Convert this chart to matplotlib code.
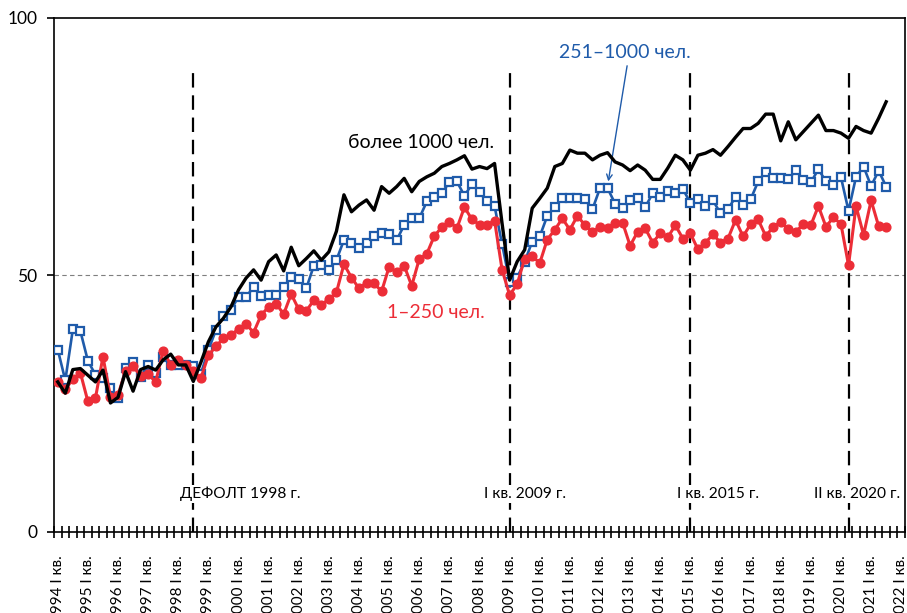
import matplotlib
matplotlib.use("Agg")
import matplotlib.pyplot as plt
import numpy as np

plt.rcParams['font.family'] = ['Lato', 'DejaVu Sans']

# ---- data (quarterly, 1994 Q1 .. 2021 Q3) ----
big = [29.2, 27.0, 31.6, 31.8, 30.5, 29.2, 31.5, 25.1, 26.2, 31.2, 27.4, 31.6, 32.2, 31.5, 33.5, 34.6, 32.5, 32.5, 29.3, 33.0,
       37.0, 39.9, 41.6, 43.8, 47.1, 49.4, 51.0, 49.0, 52.6, 53.9, 50.8, 55.4, 51.8, 53.2, 54.7, 52.9, 54.5, 58.5, 65.6, 62.3,
       63.6, 64.6, 62.6, 67.2, 65.9, 67.2, 68.8, 66.2, 68.2, 69.1, 69.8, 71.1, 71.7, 72.4, 73.2, 70.6, 71.1, 70.7, 71.7, 60.0,
       49.0, 52.6, 54.9, 63.0, 64.9, 66.9, 71.1, 71.7, 74.3, 73.7, 73.7, 72.4, 73.3, 73.8, 72.0, 71.4, 70.3, 71.4, 70.4, 68.6,
       68.6, 70.8, 73.3, 72.4, 70.4, 73.3, 73.7, 74.4, 73.3, 75.0, 76.8, 78.5, 78.5, 79.5, 81.3, 81.3, 76.1, 79.8, 76.3, 77.9,
       79.5, 81.1, 78.1, 78.1, 77.6, 76.6, 78.9, 78.1, 77.6, 80.5, 83.7]

mid = [35.5, 29.5, 39.4, 39.1, 33.3, 30.6, 30.0, 28.0, 26.0, 31.9, 33.1, 30.2, 32.5, 30.9, 34.0, 32.5, 32.5, 32.5, 32.2, 30.8,
       35.4, 39.3, 42.1, 43.2, 45.8, 45.8, 47.6, 46.0, 46.2, 46.2, 47.6, 49.7, 49.2, 47.4, 51.8, 51.9, 51.0, 52.9, 56.8, 56.2,
       55.2, 56.2, 57.5, 58.1, 57.9, 56.8, 59.7, 61.0, 61.0, 64.3, 65.2, 66.0, 68.0, 68.2, 65.4, 67.7, 66.1, 64.3, 63.4, 56.0,
       48.7, 49.5, 52.6, 56.5, 57.5, 61.5, 63.3, 64.9, 64.9, 65.0, 64.7, 62.8, 66.9, 66.9, 63.9, 63.1, 64.6, 64.9, 63.2, 65.9,
       65.2, 66.4, 65.9, 66.7, 64.1, 64.7, 63.4, 64.5, 62.0, 62.8, 65.2, 63.6, 64.7, 68.2, 70.1, 68.8, 68.9, 68.6, 70.4, 68.5,
       68.0, 70.6, 68.2, 67.5, 69.0, 62.5, 69.1, 71.1, 67.3, 70.3, 67.2]

small = [29.2, 27.8, 29.7, 31.0, 25.4, 26.0, 34.1, 26.3, 26.7, 31.3, 32.2, 30.4, 30.7, 29.2, 35.3, 32.5, 33.5, 32.5, 31.4, 29.9,
         34.4, 36.1, 37.7, 38.3, 39.5, 40.5, 38.8, 42.2, 43.8, 44.4, 42.4, 46.3, 43.3, 43.0, 45.1, 44.2, 45.3, 46.6, 52.1, 49.5,
         47.4, 48.5, 48.4, 46.8, 51.6, 50.5, 51.8, 47.9, 53.1, 54.1, 57.6, 59.3, 60.4, 59.1, 63.2, 60.8, 59.8, 59.7, 60.6, 51.0,
         46.1, 48.2, 53.2, 53.7, 52.3, 56.9, 58.8, 61.0, 58.8, 61.5, 59.7, 58.4, 59.4, 59.1, 60.2, 60.2, 55.7, 58.4, 59.1, 56.3,
         58.1, 57.3, 59.7, 57.1, 58.1, 55.0, 56.3, 57.9, 56.3, 57.1, 60.7, 57.5, 59.9, 60.8, 57.6, 59.3, 60.4, 58.9, 58.4, 59.9,
         59.7, 63.4, 59.4, 61.2, 59.9, 51.9, 63.4, 57.8, 64.5, 59.5, 59.4]

years = list(range(1994, 2023))            # axis runs 1994 Q1 .. 2022 Q1
tick_labels = [f"{y} I кв." for y in years]
n_categories = 4 * (len(years) - 1) + 1     # 113 quarters

event_idx = [18, 60, 84, 105]
event_labels = ["ДЕФОЛТ 1998 г.", "I кв. 2009 г.", "I кв. 2015 г.", "II кв. 2020 г."]
event_label_x = [24.2, 62.1, 87.7, 106.1]

c_black = "#000000"
c_blue = "#1F5BAA"
c_red = "#EC2D37"

fig = plt.figure(figsize=(9.07, 6.13), dpi=100)
ax = fig.add_axes([54 / 907, 1 - 532 / 613, (905 - 54) / 907, (532 - 18) / 613])

x = np.arange(len(big))

ax.axhline(50, color="#7F7F7F", lw=0.8, ls=(0, (4, 3)), zorder=1)

for xi in event_idx:
    ax.plot([xi, xi], [0, 90.3], color="black", lw=1.6, ls=(0, (6.5, 3.5)), zorder=2)

ax.plot(x, mid, color=c_blue, lw=1.9, marker="s", ms=5.8, mfc="white", mec=c_blue, mew=1.6, zorder=3)
ax.plot(x, small, color=c_red, lw=2.2, marker="o", ms=6.3, mfc=c_red, mec=c_red, zorder=4)
ax.plot(x, big, color=c_black, lw=2.4, zorder=5)

ax.set_xlim(-0.5, n_categories - 0.5)
ax.set_ylim(0, 100)

# y axis
ax.set_yticks([0, 50, 100])
ax.tick_params(axis="y", direction="out", length=5, width=1.2, labelsize=12.5, pad=7)

# x axis: ticks at category boundaries, labels at yearly Q1 centers
ax.set_xticks(np.arange(-0.5, n_categories, 1))
ax.set_xticklabels([])
ax.tick_params(axis="x", which="major", direction="inout", length=8, width=1.2)
ax.set_xticks(np.arange(0, n_categories, 4), minor=True)
ax.set_xticklabels(tick_labels, minor=True, rotation=90, va="top", ha="center", fontsize=11)
ax.tick_params(axis="x", which="minor", length=0, pad=17)

for s in ax.spines.values():
    s.set_linewidth(1.2)

# annotations
ax.text(48.2, 75.7, "более 1000 чел.", color="black", fontsize=14, ha="center", va="center")
ax.text(50.2, 42.8, "1–250 чел.", color=c_red, fontsize=14, ha="center", va="center")
ax.text(75.3, 93.2, "251–1000 чел.", color=c_blue, fontsize=14, ha="center", va="center")
ax.annotate("", xy=(73.1, 68.2), xytext=(75.6, 90.7),
            arrowprops=dict(arrowstyle="->", color=c_blue, lw=1.0, shrinkA=0, shrinkB=0))

for lx, lab in zip(event_label_x, event_labels):
    ax.text(lx, 7.4, lab, color="black", fontsize=11.2, ha="center", va="center",
            bbox=dict(facecolor="white", edgecolor="none", pad=1.5), zorder=6)

fig.savefig("out.png", dpi=100)
